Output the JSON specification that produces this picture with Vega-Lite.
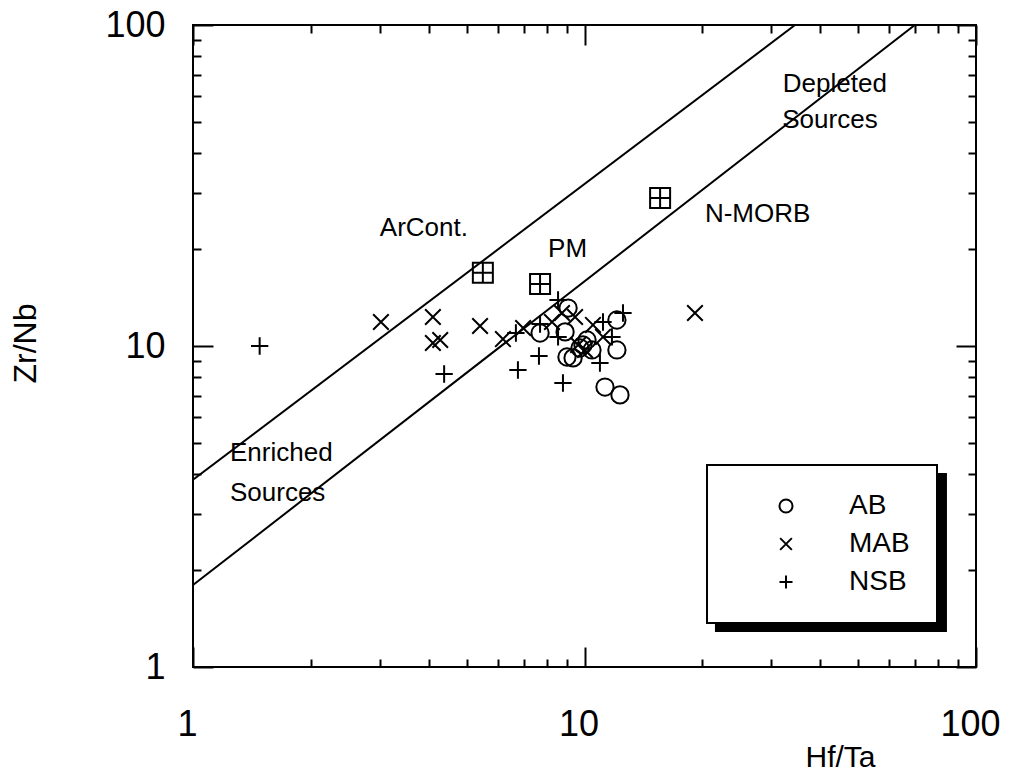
{
  "$schema": "https://vega.github.io/schema/vega-lite/v6.json",
  "width": 783,
  "height": 642,
  "autosize": {"type": "none"},
  "padding": {"left": 193, "top": 25, "right": 45, "bottom": 110},
  "background": "white",
  "config": {
    "view": {"stroke": "black", "strokeWidth": 2},
    "font": "Liberation Sans",
    "axis": {"domain": false, "grid": false, "tickColor": "black", "tickWidth": 2, "labelColor": "black", "titleColor": "black", "labelFont": "Liberation Sans", "titleFont": "Liberation Sans", "titleFontWeight": "normal"},
    "legend": {"strokeWidth": 2}
  },
  "datasets": {
    "samples": [
      {"group": "AB", "hf_ta": 7.70, "zr_nb": 10.98},
      {"group": "AB", "hf_ta": 9.08, "zr_nb": 13.13},
      {"group": "AB", "hf_ta": 8.92, "zr_nb": 11.06},
      {"group": "AB", "hf_ta": 9.02, "zr_nb": 9.24},
      {"group": "AB", "hf_ta": 9.35, "zr_nb": 9.18},
      {"group": "AB", "hf_ta": 9.74, "zr_nb": 9.86},
      {"group": "AB", "hf_ta": 10.15, "zr_nb": 10.44},
      {"group": "AB", "hf_ta": 10.45, "zr_nb": 9.72},
      {"group": "AB", "hf_ta": 12.1, "zr_nb": 12.05},
      {"group": "AB", "hf_ta": 12.1, "zr_nb": 9.72},
      {"group": "AB", "hf_ta": 11.28, "zr_nb": 7.45},
      {"group": "AB", "hf_ta": 12.32, "zr_nb": 7.04},
      {"group": "AB", "hf_ta": 9.91, "zr_nb": 10.07},
      {"group": "MAB", "hf_ta": 3.02, "zr_nb": 11.88},
      {"group": "MAB", "hf_ta": 4.10, "zr_nb": 12.31},
      {"group": "MAB", "hf_ta": 4.10, "zr_nb": 10.22},
      {"group": "MAB", "hf_ta": 4.28, "zr_nb": 10.44},
      {"group": "MAB", "hf_ta": 5.41, "zr_nb": 11.54},
      {"group": "MAB", "hf_ta": 6.19, "zr_nb": 10.51},
      {"group": "MAB", "hf_ta": 6.97, "zr_nb": 11.38},
      {"group": "MAB", "hf_ta": 8.26, "zr_nb": 11.88},
      {"group": "MAB", "hf_ta": 8.76, "zr_nb": 12.67},
      {"group": "MAB", "hf_ta": 9.46, "zr_nb": 12.31},
      {"group": "MAB", "hf_ta": 9.63, "zr_nb": 10.07},
      {"group": "MAB", "hf_ta": 10.03, "zr_nb": 9.72},
      {"group": "MAB", "hf_ta": 10.51, "zr_nb": 11.63},
      {"group": "MAB", "hf_ta": 11.15, "zr_nb": 10.67},
      {"group": "MAB", "hf_ta": 19.15, "zr_nb": 12.67},
      {"group": "NSB", "hf_ta": 1.48, "zr_nb": 10.0},
      {"group": "NSB", "hf_ta": 4.38, "zr_nb": 8.18},
      {"group": "NSB", "hf_ta": 6.68, "zr_nb": 10.98},
      {"group": "NSB", "hf_ta": 6.76, "zr_nb": 8.42},
      {"group": "NSB", "hf_ta": 7.65, "zr_nb": 9.31},
      {"group": "NSB", "hf_ta": 7.70, "zr_nb": 11.71},
      {"group": "NSB", "hf_ta": 8.56, "zr_nb": 13.91},
      {"group": "NSB", "hf_ta": 8.56, "zr_nb": 10.67},
      {"group": "NSB", "hf_ta": 8.81, "zr_nb": 7.67},
      {"group": "NSB", "hf_ta": 11.15, "zr_nb": 11.88},
      {"group": "NSB", "hf_ta": 11.75, "zr_nb": 10.67},
      {"group": "NSB", "hf_ta": 12.54, "zr_nb": 12.67},
      {"group": "NSB", "hf_ta": 10.95, "zr_nb": 8.85}
    ],
    "references": [
      {"name": "ArCont.", "hf_ta": 5.5, "zr_nb": 16.9},
      {"name": "PM", "hf_ta": 7.7, "zr_nb": 15.6},
      {"name": "N-MORB", "hf_ta": 15.6, "zr_nb": 28.9}
    ],
    "boundaries": [
      {"line": "upper", "hf_ta": 1, "zr_nb": 3.83},
      {"line": "upper", "hf_ta": 34.5, "zr_nb": 100},
      {"line": "lower", "hf_ta": 1, "zr_nb": 1.80},
      {"line": "lower", "hf_ta": 69.8, "zr_nb": 100}
    ],
    "labels": [
      {"text": "Depleted", "hf_ta": 32.1, "zr_nb": 65.5},
      {"text": "Sources", "hf_ta": 32.0, "zr_nb": 50.6},
      {"text": "ArCont.", "hf_ta": 3.0, "zr_nb": 23.3},
      {"text": "PM", "hf_ta": 8.07, "zr_nb": 20.0},
      {"text": "N-MORB", "hf_ta": 20.3, "zr_nb": 25.8},
      {"text": "Enriched", "hf_ta": 1.243, "zr_nb": 4.64},
      {"text": "Sources", "hf_ta": 1.243, "zr_nb": 3.48}
    ],
    "legendShadow": [
      {"x1": 21.54, "x2": 84.3, "y1": 4.02, "y2": 1.285}
    ]
  },
  "resolve": {"axis": {"x": "independent", "y": "independent"}},
  "layer": [
    {
      "data": {"name": "legendShadow"},
      "mark": {"type": "rect", "color": "black"},
      "encoding": {
        "x": {"field": "x1", "type": "quantitative", "scale": {"type": "log", "domain": [1, 100], "nice": false}, "axis": null},
        "x2": {"field": "x2"},
        "y": {"field": "y1", "type": "quantitative", "scale": {"type": "log", "domain": [1, 100], "nice": false}, "axis": null},
        "y2": {"field": "y2"}
      }
    },
    {
      "data": {"name": "boundaries"},
      "mark": {"type": "line", "color": "black", "strokeWidth": 2, "clip": true},
      "encoding": {
        "x": {"field": "hf_ta", "type": "quantitative", "scale": {"type": "log", "domain": [1, 100], "nice": false},
          "axis": {"orient": "bottom", "values": [1, 10, 100], "format": "~g", "tickSize": -20, "labelFontSize": 36, "labelPadding": 60, "labelFlush": false, "labelOffset": -6, "labelOverlap": false,
            "title": "Hf/Ta", "titleFontSize": 30, "titleX": 647, "titleY": 90, "titleAlign": "center", "titleBaseline": "middle"}},
        "y": {"field": "zr_nb", "type": "quantitative", "scale": {"type": "log", "domain": [1, 100], "nice": false},
          "axis": {"orient": "left", "values": [1, 10, 100], "format": "~g", "tickSize": -20, "labelFontSize": 36, "labelPadding": 48, "labelOverlap": false,
            "title": "Zr/Nb", "titleFontSize": 32, "titleX": -168, "titleY": 318, "titleAlign": "center", "titleBaseline": "middle"}},
        "detail": {"field": "line"}
      }
    },
    {
      "data": {"name": "samples"},
      "mark": {"type": "point", "filled": false, "color": "black", "opacity": 1, "strokeWidth": 2, "size": 300},
      "encoding": {
        "x": {"field": "hf_ta", "type": "quantitative", "scale": {"type": "log", "domain": [1, 100], "nice": false},
          "axis": {"orient": "bottom", "values": [2, 3, 4, 5, 6, 7, 8, 9, 20, 30, 40, 50, 60, 70, 80, 90], "tickSize": -8, "labels": false, "title": null}},
        "y": {"field": "zr_nb", "type": "quantitative", "scale": {"type": "log", "domain": [1, 100], "nice": false},
          "axis": {"orient": "left", "values": [2, 3, 4, 5, 6, 7, 8, 9, 20, 30, 40, 50, 60, 70, 80, 90], "tickSize": -8, "labels": false, "title": null}},
        "shape": {"field": "group", "type": "nominal",
          "scale": {"domain": ["AB", "MAB", "NSB"], "range": ["circle", "M-0.9,-0.9L0.9,0.9M0.9,-0.9L-0.9,0.9", "M-1,0H1M0,-1V1"]},
          "legend": {"orient": "none", "legendX": 514, "legendY": 440, "title": null, "strokeColor": "black", "fillColor": "white",
            "padding": 27, "labelFontSize": 28, "labelFont": "Liberation Sans", "labelColor": "black", "symbolSize": 170, "symbolStrokeWidth": 2,
            "symbolStrokeColor": "black", "symbolOpacity": 1, "rowPadding": 10, "symbolOffset": 38, "labelOffset": 49}}
      }
    },
    {
      "data": {"name": "references"},
      "mark": {"type": "point", "filled": false, "color": "black", "opacity": 1, "strokeWidth": 2, "size": 400, "shape": "M-1,-1H1V1H-1ZM-1,0H1M0,-1V1"},
      "encoding": {
        "x": {"field": "hf_ta", "type": "quantitative", "scale": {"type": "log", "domain": [1, 100], "nice": false},
          "axis": {"orient": "top", "values": [1, 10, 100], "tickSize": -20, "labels": false, "title": null}},
        "y": {"field": "zr_nb", "type": "quantitative", "scale": {"type": "log", "domain": [1, 100], "nice": false},
          "axis": {"orient": "right", "values": [1, 10, 100], "tickSize": -20, "labels": false, "title": null}}
      }
    },
    {
      "data": {"name": "labels"},
      "mark": {"type": "text", "align": "left", "baseline": "middle", "fontSize": 26, "font": "Liberation Sans", "color": "black"},
      "encoding": {
        "x": {"field": "hf_ta", "type": "quantitative", "scale": {"type": "log", "domain": [1, 100], "nice": false},
          "axis": {"orient": "top", "values": [2, 3, 4, 5, 6, 7, 8, 9, 20, 30, 40, 50, 60, 70, 80, 90], "tickSize": -8, "labels": false, "title": null}},
        "y": {"field": "zr_nb", "type": "quantitative", "scale": {"type": "log", "domain": [1, 100], "nice": false},
          "axis": {"orient": "right", "values": [2, 3, 4, 5, 6, 7, 8, 9, 20, 30, 40, 50, 60, 70, 80, 90], "tickSize": -8, "labels": false, "title": null}},
        "text": {"field": "text"}
      }
    }
  ]
}
